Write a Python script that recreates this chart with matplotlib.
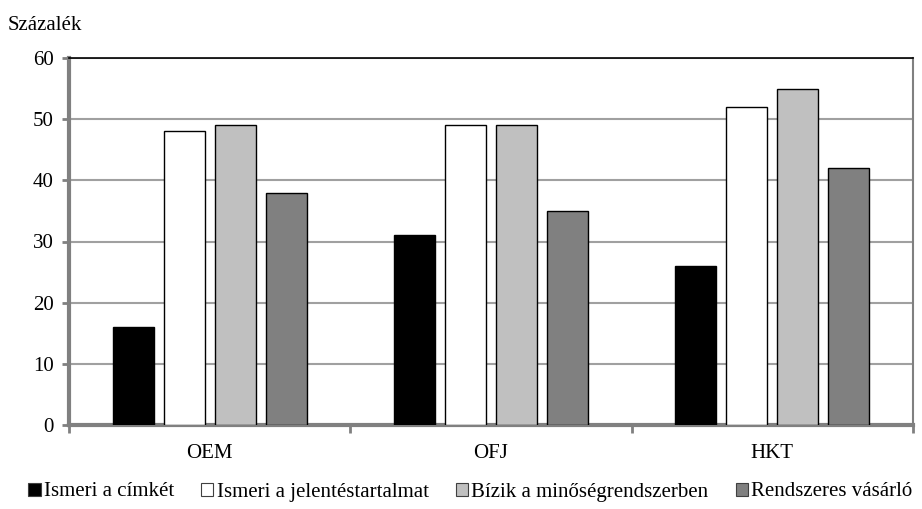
import numpy as np
import matplotlib.pyplot as plt

plt.rcParams['font.family'] = ['Liberation Serif', 'DejaVu Serif']

# data
categories = ['OEM', 'OFJ', 'HKT']
series_names = ['Ismeri a címkét', 'Ismeri a jelentéstartalmat',
                'Bízik a minőségrendszerben', 'Rendszeres vásárló']
ismeri_cimket = [16, 31, 26]
ismeri_jelentes = [48, 49, 52]
bizik = [49, 49, 55]
rendszeres = [38, 35, 42]
colors = ['#000000', '#ffffff', '#c0c0c0', '#808080']

fig = plt.figure(figsize=(9.22, 5.09), dpi=100)
ax = fig.add_axes([69 / 922, 1 - 425 / 509, 844 / 922, 367 / 509])

x = np.arange(len(categories))
width = 0.146
step = 0.1815
offsets = (np.arange(4) - 1.5) * step

for i, vals in enumerate([ismeri_cimket, ismeri_jelentes, bizik, rendszeres]):
    ax.bar(x + offsets[i], vals, width, color=colors[i], edgecolor='#000000',
           linewidth=1.0, label=series_names[i], zorder=3)

ax.set_xlim(-0.5, 2.5)
ax.set_ylim(0, 60)
ax.set_yticks(range(0, 61, 10))
ax.set_xticks(x)
ax.set_xticklabels(categories)
ax.set_xticks([-0.5, 0.5, 1.5, 2.5], minor=True)
ax.yaxis.grid(True, color='#a0a0a0', linewidth=1.5, zorder=0)

for s in ['left', 'bottom']:
    ax.spines[s].set_color('#808080')
    ax.spines[s].set_linewidth(3)
ax.spines['right'].set_color('#808080')
ax.spines['right'].set_linewidth(1.5)
ax.spines['top'].set_color('#000000')
ax.spines['top'].set_linewidth(1.2)

ax.tick_params(axis='y', length=5, width=2, color='#808080', labelsize=15, pad=6)
ax.tick_params(axis='x', which='major', length=0, labelsize=15, pad=14)
ax.tick_params(axis='x', which='minor', length=6, width=2, color='#808080')

fig.text(8 / 922, 1 - 25 / 509, 'Százalék', fontsize=15, va='center', ha='left')

leg = fig.legend(loc='center', bbox_to_anchor=(0.51, 1 - 492 / 509), ncol=4,
                 frameon=False, fontsize=15, handlelength=0.6, handleheight=0.6,
                 handletextpad=0.15, columnspacing=1.3)
for h in leg.legend_handles:
    h.set_linewidth(0.8)
    h.set_edgecolor('#404040')

fig.savefig('out.png', dpi=100)
